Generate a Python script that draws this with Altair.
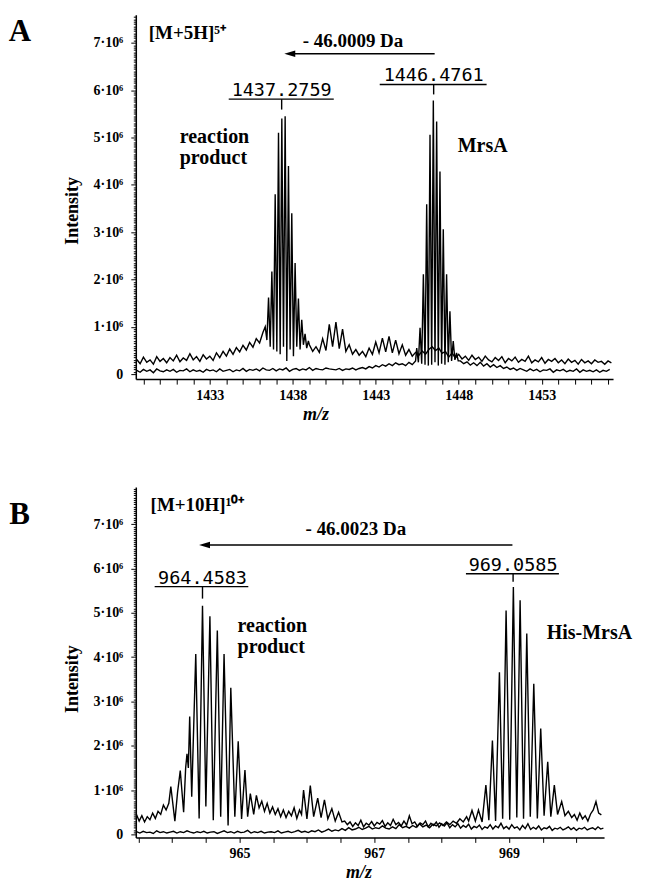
import altair as alt
import pandas as pd

# ================= DATA (intensities in units of 10^4 counts) =================
# ---- Panel A : [M+5H]5+ ----
# reaction-mixture trace
A_RXN_1_START, A_RXN_1_STEP = 1428.6, 0.2
A_RXN_1 = [31, 22, 36, 25, 30, 21, 37, 27, 33, 24, 35, 28, 40, 26, 34, 29, 43, 30, 37, 27,
           41, 32, 38, 29, 45, 35, 48, 38, 53, 42, 56, 47, 61, 51, 67, 57, 75, 66, 88]
A_RXN_2_START, A_RXN_2_STEP = 1436.34, 0.1
A_RXN_2 = [100, 72, 162, 58, 217, 52, 380, 48, 510, 42, 540, 58, 545, 28, 440, 52, 340, 38,
           235, 58, 160, 52, 115, 62, 85, 55, 70]
A_RXN_3_START, A_RXN_3_STEP = 1439.0, 0.2
A_RXN_3 = [62, 48, 58, 46, 75, 50, 105, 58, 110, 54, 95, 48, 62, 42, 52,
           40, 48, 37, 55, 42, 68, 45, 76, 47, 80, 45, 72, 43, 62, 40, 52, 38, 46, 40, 49,
           42, 52, 58, 50, 55, 44, 48, 36, 45, 34, 42, 32, 38, 29, 40, 31, 36, 27, 38, 30,
           26, 35, 29, 37, 24, 33, 28, 36, 25, 31, 27, 38, 24, 30, 26, 35, 23, 31, 27, 33,
           24, 30, 22, 32, 25, 29, 21, 31, 24, 28, 22, 30, 25, 27, 21, 28, 24]
# MrsA control trace
A_MRS_1_START, A_MRS_1_STEP = 1428.6, 0.2
A_MRS_1 = [8, 4, 10, 6, 9, 3, 11, 7, 5, 9, 6, 10, 4, 8, 7, 11, 5, 9, 6, 8,
           4, 10, 7, 9, 5, 11, 6, 8, 10, 5, 9, 7, 12, 6, 10, 8, 11, 7, 13, 9,
           8, 12, 7, 11, 9, 13, 6, 10, 12, 8, 11, 9, 14, 8, 12, 10, 9, 13, 11, 10,
           9, 12, 8, 11, 10, 13, 9, 12, 14, 11, 16, 13, 18, 15, 20, 17, 22, 18, 24, 20,
           22, 18, 25, 20, 28]
A_MRS_2_START, A_MRS_2_STEP = 1445.47, 0.1
A_MRS_2 = [55, 25, 98, 22, 211, 20, 359, 18, 506, 20, 578, 25, 534, 18, 428, 22, 306, 20,
           211, 25, 133, 28, 70, 30, 45, 28]
A_MRS_3_START, A_MRS_3_STEP = 1448.1, 0.2
A_MRS_3 = [28, 22, 26, 19, 24, 18, 25, 17, 22, 15, 20, 14, 18, 12, 15, 10, 13, 8, 12, 9,
           6, 11, 7, 10, 5, 9, 8, 11, 4, 9, 7, 10, 5, 8, 6, 11, 4, 9, 6, 8,
           5, 9, 4, 8, 6, 10]

# ---- Panel B : [M+10H]10+ ----
# reaction-mixture trace
B_RXN_1_START, B_RXN_1_STEP = 963.47, 0.04
B_RXN_1 = [45, 30, 42, 28, 40, 33, 48, 36, 52, 45, 66, 55, 70]
B_RXN_2_MZ = [963.98, 964.04, 964.08, 964.12, 964.17, 964.20, 964.22, 964.24, 964.26, 964.29,
              964.35, 964.40, 964.45, 964.50, 964.56, 964.61, 964.67, 964.72, 964.77, 964.83,
              964.87, 964.93, 964.98, 965.03, 965.08, 965.12, 965.16, 965.21]
B_RXN_2 = [108, 30, 95, 144, 50, 150, 182, 150, 266, 85,
           407, 36, 516, 63, 492, 32, 460, 40, 407, 20,
           331, 40, 210, 35, 145, 40, 92, 45]
B_RXN_3_START, B_RXN_3_STEP = 965.25, 0.04
B_RXN_3 = [88, 60, 75, 52, 70, 48, 62, 45, 58, 40, 55, 38, 52, 42, 60, 36, 55]
B_RXN_4_MZ = [965.92, 965.95, 966.00, 966.05, 966.10, 966.16, 966.21, 966.26, 966.31,
              966.37, 966.42, 966.47, 966.52]
B_RXN_4 = [45, 100, 35, 110, 40, 82, 38, 78, 35, 58, 30, 50, 28]
B_RXN_5_START, B_RXN_5_STEP = 966.56, 0.04
B_RXN_5 = [30, 22, 28, 18, 26, 20, 32, 17, 25, 21, 29, 19, 27, 23, 31, 18, 26, 20, 34, 22,
           27, 19, 30, 21, 42, 24, 28, 18, 26, 22, 30, 17, 25, 20, 28, 16, 24, 19, 26, 15,
           22, 17, 24, 14, 20, 16, 23, 12, 18, 15, 21, 11, 17, 14, 22, 12, 19, 15, 25, 13,
           18, 12, 22, 14, 17, 10, 20, 13, 24, 11, 16, 12, 19, 10, 15, 13, 18, 9, 14, 12,
           16, 10, 13, 17, 11, 15, 9, 14, 12, 16, 10, 13, 15, 11, 17, 12, 14]
# His-MrsA control trace
B_HIS_1_START, B_HIS_1_STEP = 963.47, 0.05
B_HIS_1 = [6, 3, 7, 4, 5, 2, 8, 4, 6, 3, 5, 7, 3, 6, 4, 8, 5, 3, 6, 4,
           7, 3, 5, 6, 2, 5, 8, 4, 6, 3, 7, 4, 5, 9, 3, 6, 4, 7, 3, 5,
           6, 4, 8, 3, 5, 7, 4, 6, 9, 5, 7, 4, 8, 6, 10, 5, 8, 12, 7, 10,
           8, 13, 9, 15, 10, 12, 16, 11, 14, 18, 12, 15, 13, 19, 14, 12, 17, 13, 22, 15,
           18, 14, 20, 16, 24, 17, 21, 15, 23, 19, 26, 20, 28, 22, 30, 25, 35, 28, 40]
B_HIS_2_MZ = [968.40, 968.45, 968.50, 968.546, 968.60, 968.656, 968.70, 968.753, 968.80,
              968.857, 968.905, 968.956, 969.01, 969.064, 969.115, 969.164, 969.215, 969.263,
              969.315, 969.367, 969.42, 969.470, 969.52, 969.574, 969.62, 969.672, 969.72,
              969.781, 969.83, 969.88, 969.93]
B_HIS_2 = [30, 54, 30, 55, 28, 111, 32, 212, 30, 366, 35, 505, 33, 558, 38, 528, 35, 453,
           40, 340, 36, 239, 42, 164, 40, 111, 45, 74, 42, 52, 38]
B_HIS_3_START, B_HIS_3_STEP = 969.97, 0.04
B_HIS_3 = [45, 32, 48, 35, 42, 30, 46, 55, 74, 48, 44]

# ---- annotation texts ----
A_ION = "[M+5H]⁵⁺"
B_ION = "[M+10H]¹⁰⁺"
A_SHIFT = "- 46.0009 Da"
B_SHIFT = "- 46.0023 Da"
A_MASSES = ["1437.2759", "1446.4761"]
B_MASSES = ["964.4583", "969.0585"]
A_NAMES = ["reaction", "product", "MrsA"]
B_NAMES = ["reaction", "product", "His-MrsA"]


def regular(start, step, vals, name):
    return [(round(start + i * step, 4), v / 100.0, name) for i, v in enumerate(vals)]


def explicit(mzs, vals, name):
    return [(m, v / 100.0, name) for m, v in zip(mzs, vals)]


rows_a = (regular(A_RXN_1_START, A_RXN_1_STEP, A_RXN_1, "rxn")
          + regular(A_RXN_2_START, A_RXN_2_STEP, A_RXN_2, "rxn")
          + regular(A_RXN_3_START, A_RXN_3_STEP, A_RXN_3, "rxn")
          + regular(A_MRS_1_START, A_MRS_1_STEP, A_MRS_1, "ctl")
          + regular(A_MRS_2_START, A_MRS_2_STEP, A_MRS_2, "ctl")
          + regular(A_MRS_3_START, A_MRS_3_STEP, A_MRS_3, "ctl"))
rows_b = (regular(B_RXN_1_START, B_RXN_1_STEP, B_RXN_1, "rxn")
          + explicit(B_RXN_2_MZ, B_RXN_2, "rxn")
          + regular(B_RXN_3_START, B_RXN_3_STEP, B_RXN_3, "rxn")
          + explicit(B_RXN_4_MZ, B_RXN_4, "rxn")
          + regular(B_RXN_5_START, B_RXN_5_STEP, B_RXN_5, "rxn")
          + regular(B_HIS_1_START, B_HIS_1_STEP, B_HIS_1, "ctl")
          + explicit(B_HIS_2_MZ, B_HIS_2, "ctl")
          + regular(B_HIS_3_START, B_HIS_3_STEP, B_HIS_3, "ctl"))

SERIF = "Liberation Serif"
MONO = "DejaVu Sans Mono"
ARROW = "M -1 0 L 1 -0.6 L 1 0.6 Z"


def panel(rows, xdom, ydom, w, h, xvals, xlab, title_x, title_y,
          letter, ion, shift, arrow, masses, names):
    df = pd.DataFrame(rows, columns=["mz", "I", "trace"])
    yvals = [round(i * 0.05, 2) for i in range(int(ydom[1] / 0.05) + 1)]
    major = "abs(datum.value - round(datum.value)) < 0.001"
    x = alt.X("mz:Q", scale=alt.Scale(domain=xdom, nice=False, zero=False),
              axis=alt.Axis(values=xvals, labelExpr=xlab, title="m/z",
                            titleFontStyle="italic", titleX=title_x, titlePadding=3,
                            tickSize=5, labelPadding=4, labelOverlap=False,
                            labelFlush=False))
    y = alt.Y("I:Q", scale=alt.Scale(domain=ydom, nice=False, zero=False),
              axis=alt.Axis(values=yvals,
                            labelExpr=major + " ? (round(datum.value) == 0 ? '0' : round(datum.value) + '·10⁶') : ''",
                            tickSize={"condition": {"test": major, "value": 5}, "value": 2.5},
                            title="Intensity", titleY=title_y, titlePadding=12,
                            labelPadding=8, labelOverlap=False, labelFlush=False))
    lines = alt.Chart(df).mark_line(color="black", strokeWidth=1.4).encode(
        x=x, y=y, detail="trace:N")

    def txt(d, **kw):
        base = dict(font=SERIF, fontWeight="bold", align="left", baseline="alphabetic",
                    color="black")
        base.update(kw)
        return alt.Chart(pd.DataFrame(d)).mark_text(**base).encode(x=x, y=y, text="text:N")

    letter_l = txt({"mz": [letter[1]], "I": [letter[2]], "text": [letter[0]]}, fontSize=31)
    ion_l = txt({"mz": [ion[1]], "I": [ion[2]], "text": [ion[0]]}, fontSize=19)
    shift_l = txt({"mz": [shift[1]], "I": [shift[2]], "text": [shift[0]]}, fontSize=19)
    names_l = txt({"mz": names[1], "I": names[2], "text": names[0]}, fontSize=20)
    mass_l = txt({"mz": masses[1], "I": masses[2], "text": masses[0]}, font=MONO,
                 fontWeight="normal", fontSize=18.5, align="center", dy=-3)
    under = alt.Chart(pd.DataFrame({"mz": masses[3], "mz2": masses[4], "I": masses[2]})).mark_rule(
        color="black", strokeWidth=1.4).encode(x=x, x2="mz2:Q", y=y)
    tick = alt.Chart(pd.DataFrame({"mz": masses[1], "I": masses[2], "I2": masses[5]})).mark_rule(
        color="black", strokeWidth=1.4).encode(x=x, y=y, y2="I2:Q")
    arr = alt.Chart(pd.DataFrame({"mz": [arrow[0]], "mz2": [arrow[1]], "I": [arrow[2]]})).mark_rule(
        color="black", strokeWidth=1.4).encode(x=x, x2="mz2:Q", y=y)
    head = alt.Chart(pd.DataFrame({"mz": [arrow[0]], "I": [arrow[2]]})).mark_point(
        shape=ARROW, size=120, filled=True, color="black", opacity=1, strokeWidth=0).encode(x=x, y=y)
    return alt.layer(lines, letter_l, ion_l, shift_l, names_l, mass_l, under, tick, arr,
                     head).properties(width=w, height=h)


pa = panel(rows_a, [1428.54, 1457.3], [-0.105, 7.595], 478, 365,
           list(range(1429, 1458)),
           "(datum.value - 1433) % 5 === 0 ? format(datum.value, 'd') : ''",
           180, 196,
           ("A", 1420.89, 7.03), (A_ION, 1429.32, 7.09), (A_SHIFT, 1438.6, 6.92),
           (1437.82, 1446.55, 6.77),
           (A_MASSES, [1437.33, 1446.49], [5.81, 6.12], [1434.14, 1443.24],
            [1440.47, 1449.68], [5.59, 5.91]),
           (A_NAMES, [1431.19, 1431.19, 1447.94], [4.89, 4.43, 4.70]))

pb = panel(rows_b, [963.46, 970.41], [-0.068, 7.84], 469, 351,
           [963.5 + 0.5 * i for i in range(14)],
           "(datum.value === 965 || datum.value === 967 || datum.value === 969) ? format(datum.value, 'd') : ''",
           223, 192,
           ("B", 961.58, 7.0), (B_ION, 963.68, 7.30), (B_SHIFT, 965.98, 6.76),
           (964.48, 969.05, 6.53),
           (B_MASSES, [964.45, 969.06], [5.59, 5.88], [963.74, 968.36],
            [965.13, 969.74], [5.32, 5.70]),
           (B_NAMES, [964.97, 964.97, 969.56], [4.57, 4.10, 4.41]))

chart = alt.vconcat(pa, pb, spacing=58).properties(
    padding={"left": 0, "top": 1, "right": 5, "bottom": 5}
).configure_view(stroke=None).configure_axis(
    grid=False, domainColor="black", domainWidth=1.5, tickColor="black", tickWidth=1,
    labelFont=SERIF, labelFontWeight="bold", labelFontSize=14, labelColor="black",
    titleFont=SERIF, titleFontWeight="bold", titleFontSize=18, titleColor="black")

chart.save("out.html", embed_options={"renderer": "svg", "actions": False})
